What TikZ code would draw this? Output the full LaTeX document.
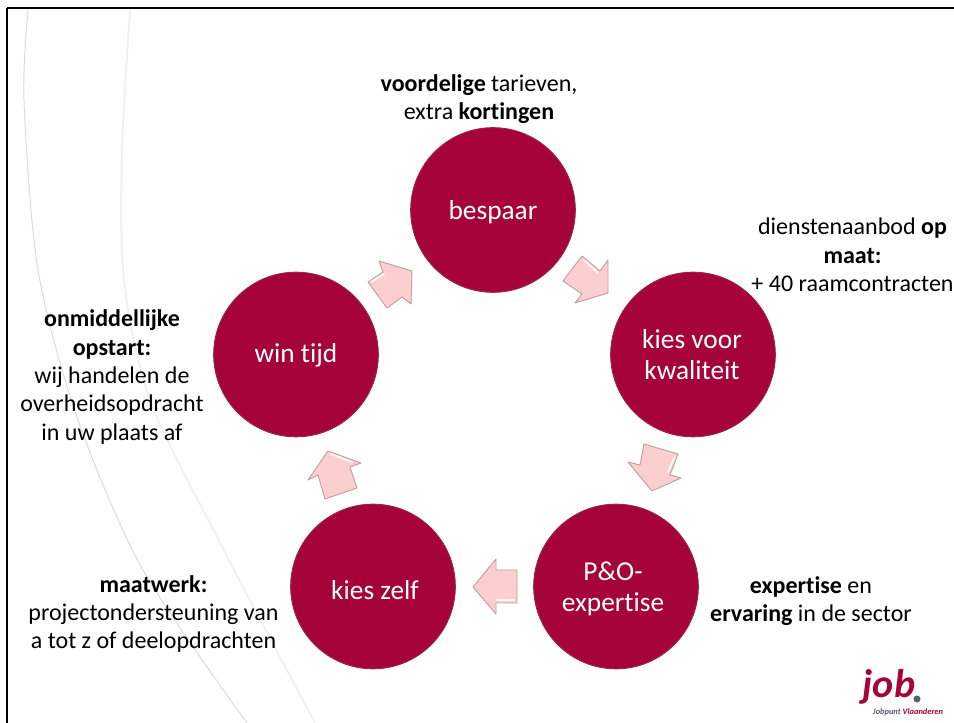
\documentclass[tikz,border=0pt]{standalone}
\usepackage{fontspec}
\setmainfont{Carlito}[Ligatures=NoCommon]
\definecolor{wine}{HTML}{A6033A}
\definecolor{wineedge}{HTML}{96254A}
\definecolor{arrowpink}{HTML}{FBCFCF}
\definecolor{arrowedge}{HTML}{BFA0A0}
\definecolor{curve}{HTML}{DADADA}
\definecolor{curvefaint}{HTML}{F0F0F0}
\definecolor{logogrey}{HTML}{55606A}
\tikzset{
  x=0.75pt,y=-0.75pt,
  disc/.style={circle,fill=wine,draw=wineedge,line width=0.7pt,minimum size=123.5pt,inner sep=0pt},
  disclabel/.style={align=center,text=white,inner sep=0pt,font=\fontsize{20.5}{23.25}\selectfont},
  note/.style={align=center,text=black,font=\fontsize{18}{21.3}\selectfont,inner sep=0pt},
  chev/.style={fill=arrowpink,draw=arrowedge,line width=0.7pt,line join=round},
  glint/.style={draw=white,line width=1.3pt,line cap=round,opacity=0.85},
  arc1/.style={draw=curve,line width=0.7pt},
  arc2/.style={draw=curvefaint,line width=1.4pt}
}
\begin{document}
\begin{tikzpicture}
\useasboundingbox (0,0) rectangle (954,723);
\fill[white] (0,0) rectangle (954,723);
\draw[arc1] plot[smooth] coordinates {(28,10) (24,100) (38,270) (78,420) (143,570) (247,723)};
\draw[arc2] plot[smooth] coordinates {(130,10) (122,150) (124,280) (150,400) (217,537) (315,723)};
\draw[black,line width=1.9pt] (7,8) -- (954,8) (7,8) -- (7,723);
\node[disc] (bespaar) at (493,210) {};
\node[disc] (kwaliteit) at (693,354.5) {};
\node[disc] (expertise) at (616,586.5) {};
\node[disc] (zelf) at (373,586.5) {};
\node[disc] (tijd) at (296,354.5) {};
\node[disclabel] (l1) at (493,212) {bespaar};
\node[disclabel] (l2) at (692,354.5) {kies voor\\kwaliteit};
\node[disclabel] (l3) at (613,589) {P\&O-\\expertise};
\node[disclabel] (l4) at (375,590) {kies zelf};
\node[disclabel] (l5) at (296,355) {win tijd};
\draw[chev] (379,261) -- (412,271) -- (411,304) -- (402,297) -- (387,308) -- (368,282) -- (383,272) -- cycle;
\draw[glint] (371,282) -- (384,274);
\draw[chev] (608,260) -- (608,293) -- (575,303) -- (582,294) -- (563,281) -- (582,256) -- (600,271) -- cycle;
\draw[glint] (584,260) -- (598,273);
\draw[chev] (473,587) -- (496,559) -- (496,570) -- (517,570) -- (517,603) -- (496,603) -- (496,614) -- cycle;
\draw[glint] (497,600) -- (514,600);
\draw[chev] (628,462) -- (640,465) -- (644,444) -- (678,454) -- (670,475) -- (681,478) -- (652,491) -- cycle;
\draw[glint] (675,457) -- (668,472);
\draw[chev] (328,451) -- (361,463) -- (350,467) -- (357,488) -- (325,499) -- (318,475) -- (308,480) -- cycle;
\draw[glint] (331,454) -- (352,462);
\node[note] (n1) at (479,99) {\textbf{voordelige} tarieven,\\extra \textbf{kortingen}};
\node[note] (n2) at (852.5,255) {dienstenaanbod \textbf{op}\\\textbf{maat:}\\+ 40 raamcontracten};
\node[note] (n3) at (811,601) {\textbf{expertise} en\\\textbf{ervaring} in de sector};
\node[note] (n4) at (153.5,614) {\textbf{maatwerk:}\\projectondersteuning van\\a tot z of deelopdrachten};
\node[note] (n5) at (112,377) {\textbf{onmiddellijke}\\\textbf{opstart:}\\wij handelen de\\overheidsopdracht\\in uw plaats af};
\node[font=\bfseries\itshape\fontsize{30}{30}\selectfont,text=wine,inner sep=0pt] (logo) at (889,687) {job};
\fill[logogrey] (917,699) circle (3.5);
\node[font=\bfseries\itshape\fontsize{6.3}{7}\selectfont,text=logogrey,inner sep=0pt] (sub) at (908,712) {Jobpunt \textcolor{wine}{Vlaanderen}};
\end{tikzpicture}
\end{document}
